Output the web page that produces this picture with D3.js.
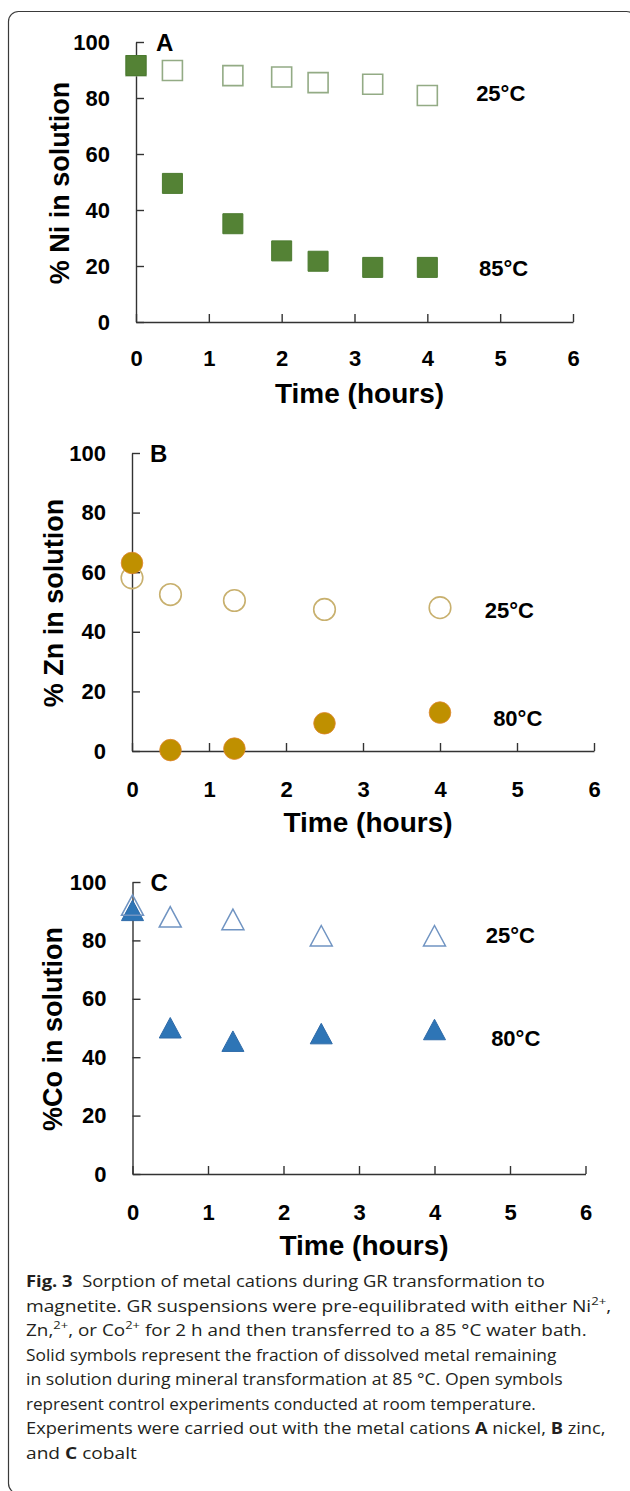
<!DOCTYPE html>
<html>
<head>
<meta charset="utf-8">
<script src="https://cdn.jsdelivr.net/npm/d3@7"></script>
<style>
  body { margin: 0; background: #fff; }
  svg { display: block; }
</style>
</head>
<body>
<div id="fig"></div>
<script>
// values
const niTime = [0, 0.5, 1.33, 2, 2.5, 3.25, 4];
const ni25 = [91.5, 89.8, 88, 87.5, 85.5, 84.9, 80.9];
const ni85 = [91.6, 49.5, 35.1, 25.4, 21.7, 19.5, 19.5];

const znTime = [0, 0.5, 1.33, 2.5, 4];
const zn25 = [58.1, 52.5, 50.5, 47.5, 48.1];
const zn80 = [63.1, 0.3, 0.8, 9.3, 12.9];

const coTime = [0, 0.5, 1.33, 2.5, 4];
const co25 = [92, 88, 87.1, 81.5, 81.5];
const co80 = [90.2, 50.0, 45.4, 48.0, 49.4];

const xTicks = [0, 1, 2, 3, 4, 5, 6];
const yTicks = [0, 20, 40, 60, 80, 100];

let width = 630;
let height = 1491;
let chartFont = "'Liberation Sans', Arial, sans-serif";

let svg = d3.select("#fig")
    .append("svg")
    .attr("width", width)
    .attr("height", height);

// figure frame (right and bottom edges fall just outside the picture)
svg.append("rect")
    .attr("x", 8.5).attr("y", 11.5)
    .attr("width", 628).attr("height", 1482)
    .attr("rx", 10)
    .attr("fill", "none")
    .attr("stroke", "#3a3a3a")
    .attr("stroke-width", 1.2);

// marker shapes
function markerPath(shape) {
    if (shape === "square") return "M-10,-10H10V10H-10Z";
    if (shape === "triangle") return "M0,-10.5L11,10L-11,10Z";
    return "M0,-10.8A10.8,10.8 0 1,1 0,10.8A10.8,10.8 0 1,1 0,-10.8Z";
}

let panels = [
    {
        left: 136, right: 573, top: 42, bottom: 322,
        letter: "A", letterDx: 20, yTitle: "% Ni in solution", yTitleX: 59,
        xPad: 28,
        series: [
            { time: niTime, values: ni25, shape: "square", fill: "#fff", stroke: "#93ab85", sw: 1.6 },
            { time: niTime, values: ni85, shape: "square", fill: "#548235", stroke: "#4b7a2f", sw: 1 }
        ],
        labels: [
            { text: "25\u00b0C", t: 4.67, v: 81.8 },
            { text: "85\u00b0C", t: 4.71, v: 19.3 }
        ]
    },
    {
        left: 132, right: 594, top: 453, bottom: 751,
        letter: "B", letterDx: 18, yTitle: "% Zn in solution", yTitleX: 53,
        xPad: 30,
        series: [
            { time: znTime, values: zn25, shape: "circle", fill: "none", stroke: "#c8b06e", sw: 1.6 },
            { time: znTime, values: zn80, shape: "circle", fill: "#bf9000", stroke: "#e0852f", sw: 0.8 }
        ],
        labels: [
            { text: "25\u00b0C", t: 4.58, v: 47.3 },
            { text: "80\u00b0C", t: 4.69, v: 11.1 }
        ]
    },
    {
        left: 132.5, right: 585.5, top: 882, bottom: 1174,
        letter: "C", letterDx: 18, yTitle: "%Co in solution", yTitleX: 52,
        xPad: 30,
        series: [
            { time: coTime, values: co80, shape: "triangle", fill: "#2e75b6", stroke: "#2e6aa8", sw: 1 },
            { time: coTime, values: co25, shape: "triangle", fill: "none", stroke: "#7094c2", sw: 1.5 }
        ],
        labels: [
            { text: "25\u00b0C", t: 4.68, v: 81.8 },
            { text: "80\u00b0C", t: 4.75, v: 46.6 }
        ]
    }
];

panels.forEach(function(p) {
    let x = d3.scaleLinear().domain([0, 6]).range([p.left, p.right]);
    let y = d3.scaleLinear().domain([0, 100]).range([p.bottom, p.top]);
    let g = svg.append("g");

    // x axis, ticks pointing inward
    let gx = g.append("g")
        .attr("transform", "translate(0," + p.bottom + ")")
        .call(d3.axisBottom(x).tickValues(xTicks).tickFormat(d3.format("d"))
            .tickSize(-8).tickSizeOuter(0).tickPadding(p.xPad));
    // y axis, ticks pointing inward
    let gy = g.append("g")
        .attr("transform", "translate(" + p.left + ",0)")
        .call(d3.axisLeft(y).tickValues(yTicks).tickFormat(d3.format("d"))
            .tickSize(-8).tickSizeOuter(0).tickPadding(26));

    [gx, gy].forEach(function(ax) {
        ax.attr("font-family", chartFont).attr("font-size", 22).attr("font-weight", "bold");
        ax.selectAll("path, line").attr("stroke", "#333").attr("stroke-width", 1.4);
        ax.selectAll("text").attr("fill", "#000");
    });

    // markers
    p.series.forEach(function(s) {
        g.selectAll(null)
            .data(s.time.map((t, i) => ({ t: t, v: s.values[i] })))
            .enter()
            .append("path")
            .attr("d", markerPath(s.shape))
            .attr("transform", d => "translate(" + x(d.t) + "," + y(d.v) + ")")
            .attr("fill", s.fill)
            .attr("stroke", s.stroke)
            .attr("stroke-width", s.sw);
    });

    // temperature labels
    g.selectAll(null)
        .data(p.labels)
        .enter()
        .append("text")
        .attr("x", d => x(d.t))
        .attr("y", d => y(d.v))
        .attr("dy", "0.36em")
        .text(d => d.text)
        .style("font-family", chartFont)
        .style("font-size", "22px")
        .style("font-weight", "bold");

    // panel letter
    g.append("text")
        .attr("x", p.left + p.letterDx)
        .attr("y", p.top)
        .attr("dy", "0.36em")
        .text(p.letter)
        .style("font-family", chartFont)
        .style("font-size", "24px")
        .style("font-weight", "bold");

    // axis titles
    g.append("text")
        .attr("transform", "translate(" + p.yTitleX + "," + ((p.top + p.bottom) / 2 + 1) + ") rotate(-90)")
        .attr("text-anchor", "middle")
        .attr("dy", "0.36em")
        .text(p.yTitle)
        .style("font-family", chartFont)
        .style("font-size", "27px")
        .style("font-weight", "bold");

    g.append("text")
        .attr("x", (p.left + p.right) / 2 + 5)
        .attr("y", p.bottom + 71)
        .attr("text-anchor", "middle")
        .attr("dy", "0.36em")
        .text("Time (hours)")
        .style("font-family", chartFont)
        .style("font-size", "28px")
        .style("font-weight", "bold");
});

// caption
const captionLines = [
    [["Fig. 3", "b"], ["  Sorption of metal cations during GR transformation to"]],
    [["magnetite. GR suspensions were pre-equilibrated with either Ni"], ["2+", "sup"], [","]],
    [["Zn,"], ["2+", "sup"], [", or Co"], ["2+", "sup"], [" for 2 h and then transferred to a 85 \u00b0C water bath."]],
    [["Solid symbols represent the fraction of dissolved metal remaining"]],
    [["in solution during mineral transformation at 85 \u00b0C. Open symbols"]],
    [["represent control experiments conducted at room temperature."]],
    [["Experiments were carried out with the metal cations "], ["A", "b"], [" nickel, "], ["B", "b"], [" zinc,"]],
    [["and "], ["C", "b"], [" cobalt"]]
];
const captionRight = [545, 612, 587, 557, 563, 536, 606, 137];

let capLeft = 26;
captionLines.forEach(function(line, i) {
    let baseY = 1287 + i * 24.5;
    let t = svg.append("text")
        .attr("x", 0)
        .attr("y", 0)
        .style("font-family", "'Open Sans', 'Noto Sans', sans-serif")
        .style("font-size", "16px")
        .attr("fill", "#231f20")
        .attr("xml:space", "preserve");
    let raised = false;
    line.forEach(function(seg) {
        let sp = t.append("tspan").text(seg[0]);
        if (seg[1] === "b") sp.style("font-weight", "bold");
        if (seg[1] === "sup") {
            sp.style("font-size", "11px").attr("dy", -7);
            raised = true;
        } else if (raised) {
            sp.attr("dy", 7);
            raised = false;
        }
    });
    let w = t.node().getComputedTextLength();
    let k = (captionRight[i] - capLeft) / w;
    t.attr("transform", "translate(" + capLeft + "," + baseY + ") scale(" + k + ",1)");
});
</script>
</body>
</html>
